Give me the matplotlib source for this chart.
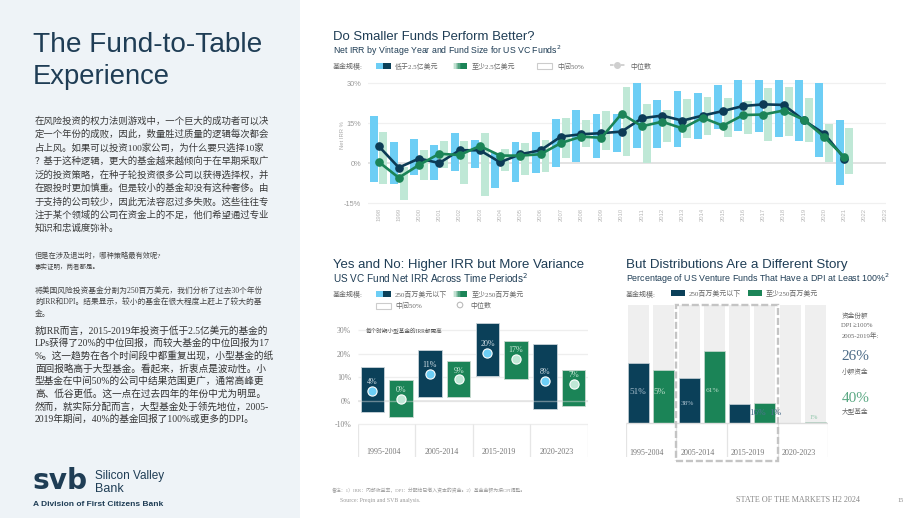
import numpy as np
import matplotlib
matplotlib.use("Agg")
import matplotlib.pyplot as plt
from matplotlib.patches import Rectangle, Circle

# ---------------- data ----------------
vintage_years = list(range(1998, 2022))
axis_years = [str(y) for y in range(1998, 2024)]

small_hi = [17.9, 7.9, 9.1, 6.9, 11.4, 8.6, 4.0, 8.0, 11.9, 16.6, 20.0, 18.5,
            18.5, 30.2, 23.9, 27.3, 26.5, 29.5, 33.4, 35.7, 33.7, 31.7, 30.0, 16.3]
small_lo = [-7.1, -7.8, -4.4, -6.3, -2.8, -1.6, -9.3, -6.9, -3.6, -1.3, 0.5, 1.9,
            4.1, 5.9, 5.6, 6.3, 9.0, 12.9, 12.3, 11.9, 10.0, 8.5, 2.5, -8.3]
small_med = [6.5, -1.6, 1.8, 0.1, 4.9, 4.9, 0.4, 3.4, 4.9, 10.0, 10.9, 11.3,
             11.9, 16.9, 17.9, 16.0, 17.9, 19.6, 21.5, 22.1, 21.9, 16.1, 11.1, 1.8]
large_hi = [11.6, -1.3, 5.0, 8.5, 8.4, 11.4, 5.4, 7.6, 8.6, 16.9, 16.1, 19.8,
            28.8, 22.3, 20.0, 24.1, 25.0, 24.6, 23.4, 28.1, 28.5, 24.4, 14.8, 13.1]
large_lo = [-7.8, -13.8, -6.3, -1.6, -7.8, -12.1, -3.0, -4.5, -3.3, 1.9, 6.1, 5.0,
            2.8, 0.3, 8.1, 9.6, 10.6, 10.0, 11.0, 8.5, 10.3, 8.1, 0.4, -3.9]
large_med = [0.6, -5.4, -0.6, 3.6, 3.1, 6.5, 2.9, 2.9, 3.4, 7.6, 10.0, 9.6,
             18.6, 13.9, 15.6, 13.1, 17.1, 14.1, 18.1, 18.3, 19.8, 16.3, 9.9, 2.3]

periods = ["1995-2004", "2005-2014", "2015-2019", "2020-2023"]
small_q_hi = [14.5, 21.6, 33.2, 24.0]
small_q_lo = [-4.8, 1.7, 10.5, -3.4]
small_q_med = [4.3, 11.4, 20.4, 8.4]
large_q_hi = [8.9, 16.9, 25.5, 13.2]
large_q_lo = [-7.1, 1.7, 9.2, -2.1]
large_q_med = [0.7, 9.1, 17.9, 7.1]

dpi_full = [100, 100, 100, 100]
dpi_small = [51, 38, 16, 0.5]
dpi_large = [45, 61, 17, 1]
dpi_small_labels = ["51%", "38%", "16%", ""]
dpi_large_labels = ["5%", "61%", "1%", "1%"]
share_small = "26%"
share_large = "40%"

# ---------------- style ----------------
NAVY = '#0b4059'
NAVYLINE = '#0c3b55'
GREEN = '#1b8457'
LBLUE = '#6dcef5'
LMINT = '#bfe8d6'
TITLE = '#1f3d55'
SERIF = ['Liberation Serif', 'Noto Sans CJK SC', 'DejaVu Sans']
SANS = ['Liberation Sans', 'Noto Sans CJK SC', 'DejaVu Sans']
plt.rcParams['font.family'] = SANS

W, H = 920, 518
fig = plt.figure(figsize=(9.2, 5.18), dpi=100)
fig.patch.set_facecolor('white')
renderer = fig.canvas.get_renderer()

fig.patches.append(Rectangle((0, 0), 300 / W, 1, transform=fig.transFigure,
                             facecolor='#eef3f7', edgecolor='none', zorder=-5))


def add_ax(l, t, r, b, **kw):
    return fig.add_axes([l / W, 1 - b / H, (r - l) / W, (b - t) / H], **kw)


ov = fig.add_axes([0, 0, 1, 1], zorder=10)
ov.set_xlim(0, W)
ov.set_ylim(H, 0)
ov.axis('off')


def T(x, y, s, size=7, width=None, family=SANS, color='#333333', ha='left', va='center', **kw):
    t = ov.text(x, y, s, fontsize=size, family=family, color=color, ha=ha, va=va, **kw)
    if width is not None:
        w = t.get_window_extent(renderer=renderer).width
        t.set_fontsize(size * width / w)
    return t


def para(lines, x, y0, dy, ref_idx, ref_width, **kw):
    t = T(x, y0 + ref_idx * dy, lines[ref_idx], width=ref_width, **kw)
    fs = t.get_fontsize()
    kw.pop('size', None)
    for i, s in enumerate(lines):
        if i != ref_idx:
            T(x, y0 + i * dy, s, size=fs, **kw)


def rect(x0, y0, x1, y1, **kw):
    ov.add_patch(Rectangle((x0, y0), x1 - x0, y1 - y0, **kw))


def grad_square(x0, y0, x1, y1, c_dark, c_light, n=10):
    from matplotlib.colors import to_rgb
    a = np.array(to_rgb(c_light)); b = np.array(to_rgb(c_dark))
    w = (x1 - x0) / n
    for i in range(n):
        f = min(1.0, i / (n * 0.55))
        rect(x0 + i * w, y0, x0 + (i + 1) * w + 0.3, y1, facecolor=a + (b - a) * f, edgecolor='none')


# ---------------- left panel ----------------
T(33, 52.5, "The Fund-to-Table", size=20, width=228, color=TITLE, va='baseline')
T(33, 83.5, "Experience", size=20, width=137, color=TITLE, va='baseline')

p1 = ["在风险投资的权力法则游戏中，一个巨大的成功者可以决",
      "定一个年份的成败，因此，数量胜过质量的逻辑每次都会",
      "占上风。如果可以投资100家公司，为什么要只选择10家",
      "？基于这种逻辑，更大的基金越来越倾向于在早期采取广",
      "泛的投资策略，在种子轮投资很多公司以获得选择权，并",
      "在跟投时更加慎重。但是较小的基金却没有这种奢侈。由",
      "于支持的公司较少，因此无法容忍过多失败。这些往往专",
      "注于某个领域的公司在资金上的不足，他们希望通过专业",
      "知识和忠诚度弥补。"]
para(p1, 35, 120.5, 13.5, 0, 236, size=7, family=SERIF, color='#3a3a3a')
T(35, 255, "但是在涉及退出时，哪种策略最有效呢?", size=5, width=127, family=SERIF, color='#444444')
T(35, 266.5, "事实证明，两者都是。", size=5, width=65, family=SERIF, color='#444444')
p2 = ["将美国风险投资基金分割为250百万美元，我们分析了过去30个年份",
      "的IRR和DPI。结果显示，较小的基金在很大程度上赶上了较大的基",
      "金。"]
para(p2, 35, 290.5, 11.7, 0, 228, size=5.5, family=SERIF, color='#444444')
p3 = ["就IRR而言，2015-2019年投资于低于2.5亿美元的基金的",
      "LPs获得了20%的中位回报，而较大基金的中位回报为17",
      "%。这一趋势在各个时间段中都重复出现，小型基金的纸",
      "面回报略高于大型基金。看起来，折衷点是波动性。小",
      "型基金在中间50%的公司中结果范围更广，通常高峰更",
      "高、低谷更低。这一点在过去四年的年份中尤为明显。",
      "然而，就实际分配而言，大型基金处于领先地位，2005-",
      "2019年期间，40%的基金回报了100%或更多的DPI。"]
para(p3, 35, 330.5, 12.7, 5, 232, size=7, family=SERIF, color='#333333')

# logo
T(33, 481, "svb", size=22, width=55, color=TITLE, weight='bold', family=['DejaVu Sans'])
T(95, 476, "Silicon Valley", size=9, width=70, color=TITLE)
T(95, 489, "Bank", size=9, color=TITLE)
T(33, 504, "A Division of First Citizens Bank", size=5, width=131, color=TITLE, weight='bold')

# ---------------- top chart ----------------
T(333, 37, "Do Smaller Funds Perform Better?", size=10, width=203, color=TITLE)
T(333, 50.5, "Net IRR by Vintage Year and Fund Size for US VC Funds$^2$", size=8, width=230, color=TITLE)
T(333, 66.5, "基金规模:", size=5, family=SERIF, color='#666666')
rect(376, 62.7, 383.5, 69.3, facecolor=LBLUE, edgecolor='none')
rect(383.5, 62.7, 390.7, 69.3, facecolor=NAVY, edgecolor='none')
T(395, 66.3, "低于2.5亿美元", size=5, family=SERIF, color='#666666')
grad_square(453, 62.7, 466.7, 69.3, GREEN, '#e6f4ec')
T(472, 66.3, "至少2.5亿美元", size=5, family=SERIF, color='#666666')
rect(537, 62.7, 551.7, 69.3, facecolor='white', edgecolor='#cccccc', lw=0.8)
T(557, 66.3, "中间50%", size=5, family=SERIF, color='#666666')
ov.plot([610, 625], [64.7, 64.7], color='#cfcfcf', lw=1.3, ls=(0, (2, 1)))
ov.plot([617.5], [64.7], marker='o', ms=4, color='#cfcfcf')
T(630, 66, "中位数", size=5, family=SERIF, color='#666666')

ax1 = add_ax(368, 80, 886, 206)
xi = np.arange(len(vintage_years))
sh, sl = np.array(small_hi), np.array(small_lo)
lh, ll = np.array(large_hi), np.array(large_lo)
for v in [-15, 15, 30]:
    ax1.axhline(v, color='#f0f0f0', lw=0.9, zorder=0)
ax1.axhline(0, color='#dedede', lw=1.2, zorder=1)
ax1.bar(xi - 0.24, sh - sl, bottom=sl, width=0.39, color=LBLUE, zorder=2)
ax1.bar(xi + 0.24, lh - ll, bottom=ll, width=0.39, color=LMINT, zorder=2)
ax1.plot(xi, small_med, color=NAVYLINE, lw=1.9, marker='o', ms=5.2, zorder=4)
ax1.plot(xi, large_med, color=GREEN, lw=1.9, marker='o', ms=5.2, zorder=4)
ax1.set_xlim(-0.52, 25.05)
ax1.set_ylim(-16.0, 31.24)
ax1.set_yticks([-15, 0, 15, 30])
ax1.set_yticklabels(['-15%', '0%', '15%', '30%'], fontsize=5.3, color='#9a9a9a')
ax1.set_xticks(range(len(axis_years)))
ax1.set_xticklabels(axis_years, rotation=90, fontsize=4.2, color='#b8b8b8')
ax1.tick_params(length=0)
ax1.tick_params(axis='y', pad=5)
ax1.tick_params(axis='x', pad=1.5)
for sp in ax1.spines.values():
    sp.set_visible(False)
ax1.patch.set_alpha(0)
T(343, 135, "Net IRR %", size=4.2, rotation=90, ha='center', color='#aaaaaa')

# ---------------- bottom-left chart ----------------
T(333, 265, "Yes and No: Higher IRR but More Variance", size=10, width=252, color=TITLE)
T(333, 278.5, "US VC Fund Net IRR Across Time Periods$^2$", size=8, width=196, color=TITLE)
T(333, 294, "基金规模:", size=5, family=SERIF, color='#666666')
rect(376, 290.7, 383.5, 296.9, facecolor=LBLUE, edgecolor='none')
rect(383.5, 290.7, 390.7, 296.9, facecolor=NAVY, edgecolor='none')
T(395, 294, "250百万美元以下", size=5, family=SERIF, color='#666666')
grad_square(453, 290.7, 466.7, 296.9, GREEN, '#e6f4ec')
T(472, 294, "至少250百万美元", size=5, family=SERIF, color='#666666')
rect(376, 302.5, 390.7, 308.5, facecolor='white', edgecolor='#cccccc', lw=0.8)
T(395, 305.5, "中间50%", size=5, family=SERIF, color='#666666')
ov.add_patch(Circle((460, 305), 2.8, facecolor='white', edgecolor='#bbbbbb', lw=0.8))
T(470, 305.5, "中位数", size=5, family=SERIF, color='#666666')

ax2 = add_ax(358, 320, 588, 457)
g = np.arange(len(periods))
for v in [30, 20, 10, -10]:
    ax2.hlines(v, -0.5, 3.5, color='#eeeeee', lw=0.9, zorder=0)
ax2.hlines(0, -0.5, 3.5, color='#e4e4e4', lw=1.1, zorder=0)
ax2.vlines(np.arange(-0.5, 4.0, 1.0), -24, -10, color='#e6e6e6', lw=0.9, zorder=0)
sqh, sql = np.array(small_q_hi), np.array(small_q_lo)
lqh, lql = np.array(large_q_hi), np.array(large_q_lo)
ax2.bar(g - 0.25, sqh - sql, bottom=sql, width=0.41, color=NAVY, edgecolor='#c9d3d9', lw=0.6, zorder=2)
ax2.bar(g + 0.25, lqh - lql, bottom=lql, width=0.41, color=GREEN, edgecolor='#c9d9d0', lw=0.6, zorder=2)
ax2.hlines(0, -0.5, 3.5, color='#dddddd', alpha=0.45, lw=1.0, zorder=3)
ax2.scatter(g - 0.25, small_q_med, s=44, color=LBLUE, edgecolor='white', lw=0.8, zorder=4)
ax2.scatter(g + 0.25, large_q_med, s=44, color=LMINT, edgecolor='white', lw=0.8, zorder=4)
for i in g:
    ax2.annotate(f"{int(small_q_med[i])}%", (i - 0.25, small_q_med[i]), xytext=(0, 6.3),
                 textcoords='offset points', ha='center', va='center', fontsize=5.8,
                 family=SERIF, color='#d3dfe6', zorder=5)
    ax2.annotate(f"{int(large_q_med[i])}%", (i + 0.25, large_q_med[i]), xytext=(0, 6.3),
                 textcoords='offset points', ha='center', va='center', fontsize=5.8,
                 family=SERIF, color='#cdeadb', zorder=5)
    ax2.text(i - 0.5 + 0.15, -21.7, periods[i], fontsize=5.8, family=SERIF, color='#777777', va='center')
ax2.set_xlim(-0.5, 3.5)
ax2.set_ylim(-23.96, 34.34)
ax2.set_yticks([-10, 0, 10, 20, 30])
ax2.set_yticklabels(['-10%', '0%', '10%', '20%', '30%'], fontsize=5.6, color='#888888', family=SERIF)
ax2.set_xticks([])
ax2.tick_params(length=0, pad=5)
for sp in ax2.spines.values():
    sp.set_visible(False)
ax2.patch.set_alpha(0)
T(366, 331.7, "每个时期小型基金的IRR都更高", size=5, width=77, family=SERIF, color='#555555')

# ---------------- bottom-right chart ----------------
T(626, 265, "But Distributions Are a Different Story", size=10, width=222, color=TITLE)
T(626, 278.5, "Percentage of US Venture Funds That Have a DPI at Least 100%$^2$", size=8, width=264, color=TITLE)
T(626, 294, "基金规模:", size=5, family=SERIF, color='#666666')
rect(670.7, 290.2, 685.3, 295.9, facecolor=NAVY, edgecolor='none')
T(689, 293.5, "250百万美元以下", size=5, family=SERIF, color='#666666')
rect(747.7, 290.2, 761.7, 295.9, facecolor=GREEN, edgecolor='none')
T(766, 293.5, "至少250百万美元", size=5, family=SERIF, color='#666666')

ax3 = add_ax(625.7, 300, 828.3, 457)
ax3.bar(g - 0.25, dpi_full, width=0.415, color='#efefef', zorder=1)
ax3.bar(g + 0.25, dpi_full, width=0.415, color='#efefef', zorder=1)
ax3.bar(g - 0.25, dpi_small, width=0.415, color=NAVY, edgecolor='#c9d3d9', lw=0.5, zorder=2)
ax3.bar(g + 0.25, dpi_large, width=0.415, color=GREEN, edgecolor='#c9d9d0', lw=0.5, zorder=2)
ax3.hlines(0, -0.5, 3.5, color='#dddddd', lw=1.0, zorder=3)
ax3.vlines([-0.5, 0.5, 1.5, 2.5, 3.5], -28.5, 0, color='#e4e4e4', lw=0.9, zorder=1)
ax3.add_patch(Rectangle((0.5, -31.8), 2.0, 131.8, fill=False, edgecolor='#c4c4c4', lw=1.7,
                        ls=(0, (3, 1.2)), clip_on=False, zorder=6))
# label placements (dx in px from bar centre, y in data units)
small_lab_pos = [(0, 26.5, 6.6, '#a9bfcd'), (-2, 17.0, 5.3, '#a9bfcd'), (17.5, 8.5, 6.6, '#4f7390'), (0, 0, 5, 'none')]
large_lab_pos = [(-4, 26.5, 6.6, '#b9dcc9'), (-1.5, 28.1, 5.3, '#b9dcc9'), (10, 8.5, 6.6, '#4f7390'), (-2, 4.7, 4.4, '#8cc5a8')]
px_per_unit = (828.3 - 625.7) / 4.0
for i in g:
    dx, yy, fs, c = small_lab_pos[i]
    if dpi_small_labels[i]:
        ax3.text(i - 0.25 + dx / px_per_unit, yy, dpi_small_labels[i], ha='center', va='center',
                 fontsize=fs, family=SERIF, color=c, zorder=7)
    dx, yy, fs, c = large_lab_pos[i]
    if dpi_large_labels[i]:
        ax3.text(i + 0.25 + dx / px_per_unit, yy, dpi_large_labels[i], ha='center', va='center',
                 fontsize=fs, family=SERIF, color=c, zorder=7)
    ax3.text(i - 0.5 + 0.08, -24.85, periods[i], fontsize=5.8, family=SERIF, color='#777777', va='center')
ax3.set_xlim(-0.5, 3.5)
ax3.set_ylim(-28.5, 104.2)
ax3.set_xticks([])
ax3.set_yticks([])
for sp in ax3.spines.values():
    sp.set_visible(False)
ax3.patch.set_alpha(0)

T(841.5, 315.7, "资金份额", size=4.8, family=SERIF, color='#666666')
T(841.5, 325.5, "DPI ≥100%", size=4.8, family=SERIF, color='#666666')
T(841.5, 335, "2005-2019年:", size=4.8, family=SERIF, color='#666666')
T(841.5, 357, share_small, size=11, family=SERIF, color='#4a6a86')
T(841.5, 371, "小额资金", size=4.8, family=SERIF, color='#666666')
T(841.5, 398, share_large, size=11, family=SERIF, color='#5aa883')
T(841.5, 411, "大型基金", size=4.8, family=SERIF, color='#666666')

# ---------------- footer ----------------
T(332, 491, "备注：1）IRR：内部收益率，DPI：分配给已缴入资本的资金。2）基金金额为按CPI调整。", size=4,
  width=190, family=SERIF, color='#9a9a9a')
T(340, 500.7, "Source: Preqin and SVB analysis.", size=4, width=80, family=SERIF, color='#9a9a9a')
T(736, 500.5, "STATE OF THE MARKETS H2 2024", size=4.5, width=126, family=SERIF, color='#888888')
T(897, 500.5, "15", size=4.5, family=SERIF, color='#888888')

fig.savefig("out.png", dpi=100)
